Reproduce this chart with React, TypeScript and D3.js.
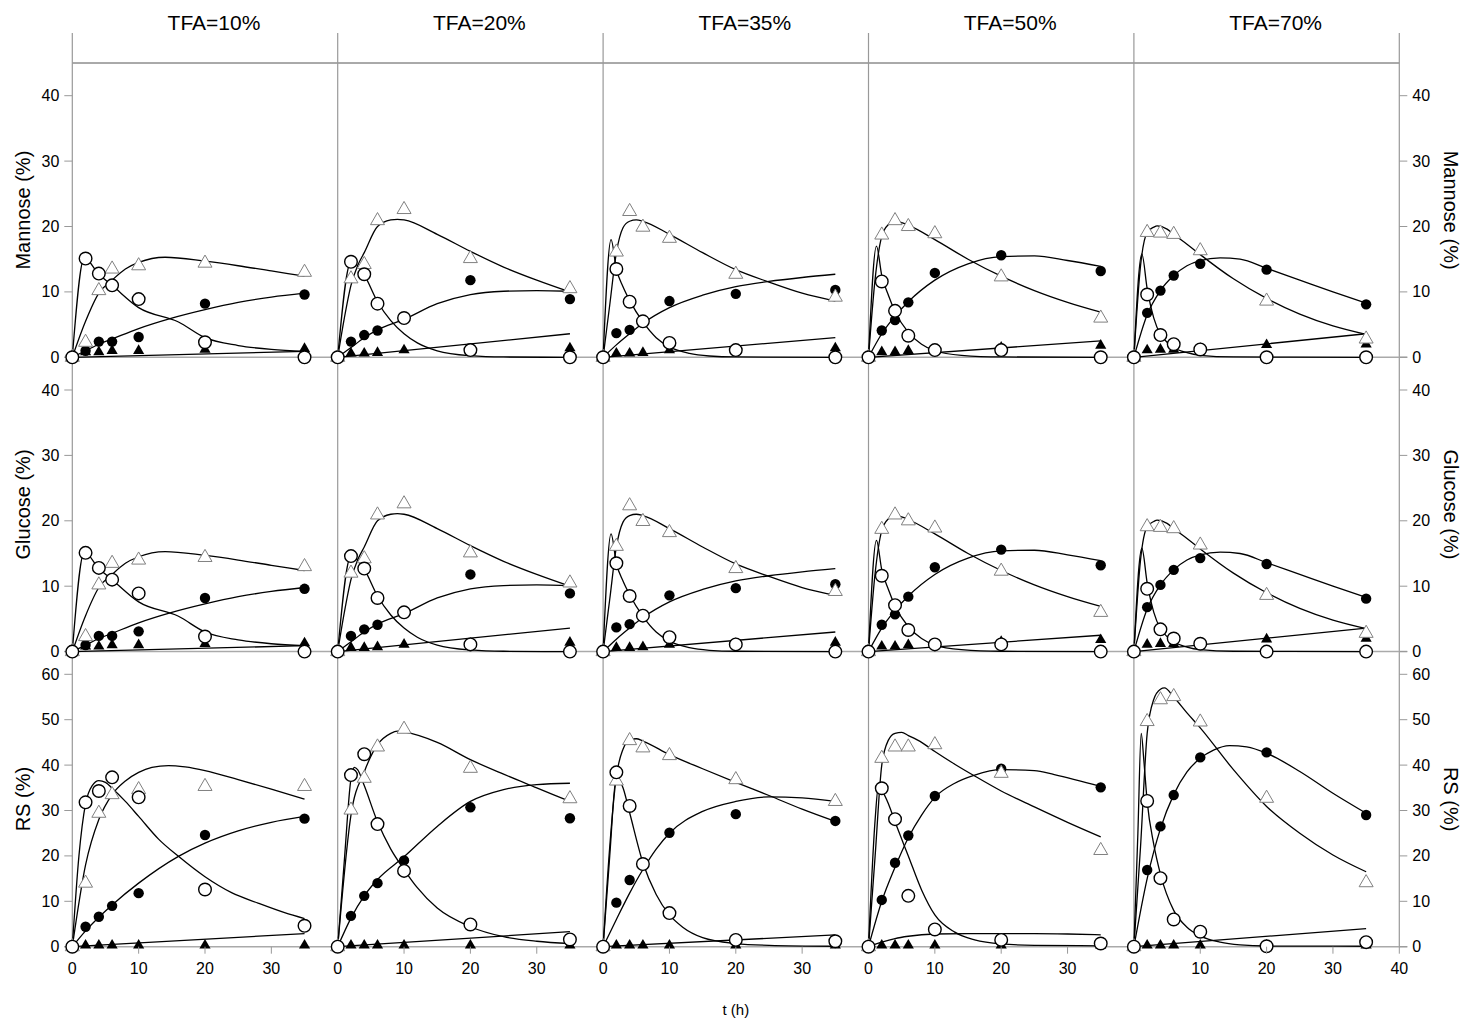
import * as d3 from "d3";

type Pt = [number, number];

const TFA = ["TFA=10%", "TFA=20%", "TFA=35%", "TFA=50%", "TFA=70%"];
const TIMES = [0, 2, 4, 6, 10, 20, 35];
const X_TICKS = [0, 10, 20, 30, 40];
const SUGAR_TICKS = [0, 10, 20, 30, 40];
const RS_TICKS = [0, 10, 20, 30, 40, 50, 60];

// Mannose (%) — one array per TFA level, values at TIMES
const manOpenCircle = [
  [0, 15.1, 12.8, 11.0, 8.9, 2.3, 0],
  [0, 14.6, 12.7, 8.2, 6.0, 1.1, 0],
  [0, 13.5, 8.5, 5.5, 2.2, 1.1, 0],
  [0, 11.6, 7.1, 3.3, 1.1, 1.1, 0],
  [0, 9.6, 3.4, 2.0, 1.2, 0, 0],
];
const manFilledCircle = [
  [0, 1.0, 2.4, 2.4, 3.1, 8.2, 9.6],
  [0, 2.4, 3.4, 4.1, 6.0, 11.8, 8.9],
  [0, 3.7, 4.2, 5.5, 8.6, 9.7, 10.3],
  [0, 4.1, 5.7, 8.4, 12.9, 15.6, 13.2],
  [0, 6.8, 10.2, 12.5, 14.3, 13.4, 8.1],
];
const manOpenTriangle = [
  [0, 2.3, 10.2, 13.5, 14.0, 14.4, 13.0],
  [0, 12.0, 14.2, 20.9, 22.6, 15.1, 10.5],
  [0, 16.1, 22.3, 19.9, 18.2, 12.7, 9.2],
  [0, 18.7, 20.9, 20.0, 18.9, 12.3, 6.0],
  [0, 19.1, 19.0, 18.8, 16.3, 8.6, 2.8],
];
const manFilledTriangle = [
  [0, 0.8, 0.8, 1.0, 1.0, 1.2, 1.3],
  [0, 0.6, 0.6, 0.7, 1.1, 1.2, 1.4],
  [0, 0.6, 0.6, 0.7, 1.1, 1.2, 1.4],
  [0, 0.8, 0.8, 1.0, 1.1, 1.5, 1.8],
  [0, 1.1, 1.2, 1.2, 1.3, 1.9, 2.0],
];

// model curves, [t, value]
const manOpenCircleFit: Pt[][] = [
  [[0, 0], [1.8, 15.2], [4, 12.7], [6, 11.0], [10, 7.6], [16, 5.4], [20, 3.0], [25, 1.8], [30, 1.2], [35, 0.9]],
  [[0, 0], [2, 14.6], [3, 14], [4, 12.6], [6, 8.5], [8, 5.6], [10, 3.6], [12, 2.2], [15, 1.0], [20, 0.25], [25, 0.05], [35, 0]],
  [[0, 0], [1.2, 18], [2, 13.5], [3, 10.8], [4, 8.7], [6, 5.4], [8, 3.0], [10, 1.6], [13, 0.6], [16, 0.2], [20, 0.05], [35, 0]],
  [[0, 0], [1.2, 17], [2, 12.5], [3, 9.5], [4, 7.0], [6, 3.8], [8, 2.0], [10, 1.0], [14, 0.3], [20, 0.05], [35, 0]],
  [[0, 0], [1.2, 15.8], [2, 10.5], [3, 6.0], [4, 3.5], [5, 2.3], [6, 1.5], [8, 0.7], [10, 0.3], [15, 0.05], [35, 0]],
];
const manOpenTriangleFit: Pt[][] = [
  [[0, 0], [2, 5.5], [4, 9.8], [6, 11.8], [8, 13.5], [10, 14.5], [14, 15.3], [20, 14.7], [25, 14.0], [30, 13.2], [35, 12.4]],
  [[0, 0], [1, 6], [2, 11], [3, 14], [4, 16], [6, 20], [8, 21], [9, 21.1], [10, 21], [15, 18.8], [20, 16.2], [25, 13.8], [30, 11.8], [35, 10.0]],
  [[0, 0], [1, 8], [2, 16], [3, 19.8], [4, 20.8], [5, 21.0], [6, 20.8], [10, 18.8], [15, 16.0], [20, 13.4], [25, 11.5], [30, 9.8], [35, 8.6]],
  [[0, 0], [1, 12], [2, 18.5], [3, 20.3], [4, 20.8], [5, 20.6], [6, 20.2], [10, 18.0], [15, 15.0], [20, 12.4], [25, 10.2], [30, 8.4], [35, 6.9]],
  [[0, 0], [1, 14], [2, 19.1], [3, 19.9], [3.5, 20.1], [5, 19.6], [6, 18.8], [8, 17.3], [10, 15.7], [15, 12.0], [20, 9.0], [25, 6.6], [30, 4.8], [35, 3.5]],
];
const manFilledCircleFit: Pt[][] = [
  [[0, 0], [2, 1.0], [4, 2.0], [6, 2.8], [10, 4.4], [15, 6.0], [20, 7.3], [25, 8.4], [30, 9.2], [35, 9.8]],
  [[0, 0], [2, 1.5], [4, 3.0], [6, 4.2], [10, 5.8], [15, 8.2], [20, 9.6], [25, 10.1], [30, 10.2], [35, 10.1]],
  [[0, 0], [2, 1.9], [4, 3.6], [6, 5.2], [10, 7.6], [15, 9.5], [20, 10.8], [25, 11.6], [30, 12.2], [35, 12.7]],
  [[0, 0], [2, 3.6], [4, 6.3], [6, 8.5], [10, 11.8], [15, 14.3], [20, 15.4], [25, 15.5], [30, 14.8], [35, 13.9]],
  [[0, 0], [2, 6.5], [4, 10.2], [6, 12.5], [8, 14.0], [10, 14.8], [13, 15.2], [16, 15.0], [20, 13.6], [25, 11.8], [30, 10.0], [35, 8.3]],
];
const manFilledTriangleFit: Pt[][] = [
  [[0, 0], [35, 0.9]],
  [[0, 0], [35, 3.6]],
  [[0, 0], [35, 3.0]],
  [[0, 0], [35, 2.5]],
  [[0, 0], [35, 3.6]],
];

// Glucose (%) panels show the same values as mannose in the figure
const gluOpenCircle = manOpenCircle;
const gluFilledCircle = manFilledCircle;
const gluOpenTriangle = manOpenTriangle;
const gluFilledTriangle = manFilledTriangle;
const gluOpenCircleFit = manOpenCircleFit;
const gluOpenTriangleFit = manOpenTriangleFit;
const gluFilledCircleFit = manFilledCircleFit;
const gluFilledTriangleFit = manFilledTriangleFit;

// RS (%)
const rsOpenCircle = [
  [0, 31.8, 34.3, 37.3, 32.9, 12.6, 4.6],
  [0, 37.8, 42.4, 27.0, 16.7, 4.9, 1.6],
  [0, 38.4, 31.0, 18.2, 7.4, 1.5, 1.2],
  [0, 34.9, 28.1, 11.2, 3.8, 1.5, 0.7],
  [0, 32.1, 15.1, 6.0, 3.3, 0.1, 1.0],
];
const rsFilledCircle = [
  [0, 4.4, 6.6, 9.0, 11.8, 24.6, 28.2],
  [0, 6.8, 11.2, 14.0, 19.0, 30.7, 28.3],
  [0, 9.7, 14.7, 18.2, 25.1, 29.2, 27.7],
  [0, 10.3, 18.5, 24.5, 33.2, 39.2, 35.1],
  [0, 16.9, 26.5, 33.4, 41.7, 42.8, 29.0],
];
const rsOpenTriangle = [
  [0, 14.0, 29.4, 33.5, 34.6, 35.3, 35.3],
  [0, 30.1, 37.1, 44.0, 47.9, 39.3, 32.6],
  [0, 36.5, 45.4, 43.8, 42.1, 36.8, 32.0],
  [0, 41.5, 44.0, 44.0, 44.5, 38.2, 21.2],
  [0, 49.6, 54.4, 55.1, 49.5, 32.7, 14.1],
];
const rsFilledTriangle = [
  [0, 0.3, 0.3, 0.3, 0.3, 0.3, 0.3],
  [0, 0.3, 0.3, 0.3, 0.3, 0.3, 0.3],
  [0, 0.3, 0.3, 0.3, 0.3, 0.3, 0.3],
  [0, 0.3, 0.3, 0.3, 0.3, 0.3, 0.3],
  [0, 0.3, 0.3, 0.3, 0.3, 0.3, 0.3],
];
const rsOpenCircleFit: Pt[][] = [
  [[0, 0], [1, 20], [2, 31.5], [3, 35.5], [4, 36.6], [5, 36.2], [6, 34.9], [8, 32], [10, 28.7], [13, 23.7], [16, 19.9], [20, 15.4], [24, 11.9], [28, 9.6], [32, 7.5], [35, 6.2]],
  [[0, 0], [1, 19], [2, 37], [2.5, 39.5], [3, 39], [4, 35.5], [6, 27.5], [8, 21.5], [10, 17], [12, 13], [15, 8.5], [20, 4.4], [25, 2.2], [30, 1.2], [35, 0.7]],
  [[0, 0], [1, 20], [2, 37.5], [3, 35], [4, 29.5], [6, 18.5], [8, 11.5], [10, 7], [12, 4.3], [15, 2], [20, 0.7], [25, 0.3], [35, 0.1]],
  [[0, 0], [1, 28], [1.5, 35.5], [2, 34.5], [3, 31.5], [4, 27.5], [6, 20], [8, 12.5], [10, 7], [13, 3.2], [16, 1.5], [20, 0.6], [25, 0.3], [35, 0.2]],
  [[0, 0], [0.6, 25], [1.1, 47], [1.5, 41], [2, 32], [3, 22.5], [4, 16], [6, 8], [8, 4.3], [10, 2.4], [13, 1], [16, 0.4], [20, 0.15], [35, 0.1]],
];
const rsOpenTriangleFit: Pt[][] = [
  [[0, 0], [2, 18], [4, 28], [6, 33.5], [8, 36.5], [10, 38.4], [12, 39.5], [14.5, 39.9], [17, 39.6], [20, 38.8], [25, 36.8], [30, 34.7], [35, 32.5]],
  [[0, 0], [2, 29], [4, 38.5], [6, 44.5], [8, 47], [9, 47.5], [10, 47.3], [15, 45], [20, 41.2], [25, 38], [30, 35], [35, 32]],
  [[0, 0], [1, 22], [2, 37.5], [3, 43.5], [4, 45.5], [5, 45.8], [6, 45.3], [10, 42.3], [15, 39.2], [20, 36.2], [25, 33.3], [30, 30.3], [35, 27.6]],
  [[0, 0], [1, 20], [2, 40], [3, 45.5], [4, 47], [5, 47.2], [6, 46.5], [8, 45], [10, 43], [13, 40.2], [16, 37.6], [20, 34.3], [25, 30.8], [30, 27.4], [35, 24.2]],
  [[0, 0], [1, 22], [2, 47], [3, 54.5], [4, 56.7], [4.6, 57], [6, 55], [8, 51.5], [10, 48.2], [15, 39], [20, 30.9], [25, 25], [30, 20.2], [35, 16.5]],
];
const rsFilledCircleFit: Pt[][] = [
  [[0, 0], [2, 3.5], [4, 6.5], [6, 9.2], [10, 14.0], [16, 19.9], [20, 22.8], [25, 25.5], [30, 27.4], [35, 28.7]],
  [[0, 0], [2, 6.3], [4, 11.2], [6, 14.8], [10, 19.8], [15, 26.5], [20, 32], [25, 34.6], [30, 35.7], [35, 36]],
  [[0, 0], [2, 6], [4, 11.8], [6, 17], [8, 21.5], [10, 25], [15, 29.8], [20, 32], [25, 33], [30, 32.8], [35, 32.0]],
  [[0, 0], [2, 10], [4, 17.5], [6, 24], [8, 29], [10, 32.9], [13, 36], [16, 37.8], [20, 39], [25, 38.8], [28, 37.9], [35, 35.3]],
  [[0, 0], [2, 15], [4, 26], [6, 33.5], [8, 38.5], [10, 41.5], [12, 43.3], [14.4, 44.3], [17, 44], [20, 42.6], [25, 38.6], [30, 33.8], [35, 29.4]],
];
const rsFilledTriangleFit: Pt[][] = [
  [[0, 0], [35, 2.9]],
  [[0, 0], [35, 3.3]],
  [[0, 0], [35, 2.6]],
  [[0, 0], [2, 1.0], [4, 1.8], [6, 2.3], [10, 2.8], [15, 2.9], [20, 2.9], [25, 2.9], [30, 2.8], [35, 2.6]],
  [[0, 0], [35, 4.0]],
];

const W = 1464;
const H = 1023;
const LEFT = 72.3;
const PW = 265.4;
const RIGHT = LEFT + PW * 5;
const FONT = "'Liberation Sans', Arial, sans-serif";

const rows = [
  {
    label: "Mannose (%)", top: 63, base: 357.3, max: 45, ticks: SUGAR_TICKS,
    oc: manOpenCircle, fc: manFilledCircle, ot: manOpenTriangle, ft: manFilledTriangle,
    ocFit: manOpenCircleFit, fcFit: manFilledCircleFit, otFit: manOpenTriangleFit, ftFit: manFilledTriangleFit,
  },
  {
    label: "Glucose (%)", top: 357.3, base: 651.6, max: 45, ticks: SUGAR_TICKS,
    oc: gluOpenCircle, fc: gluFilledCircle, ot: gluOpenTriangle, ft: gluFilledTriangle,
    ocFit: gluOpenCircleFit, fcFit: gluFilledCircleFit, otFit: gluOpenTriangleFit, ftFit: gluFilledTriangleFit,
  },
  {
    label: "RS (%)", top: 651.6, base: 946.7, max: 65, ticks: RS_TICKS,
    oc: rsOpenCircle, fc: rsFilledCircle, ot: rsOpenTriangle, ft: rsFilledTriangle,
    ocFit: rsOpenCircleFit, fcFit: rsFilledCircleFit, otFit: rsOpenTriangleFit, ftFit: rsFilledTriangleFit,
  },
];

const bigTri = d3.symbol().type(d3.symbolTriangle).size(85)() as string;
const smallTri = d3.symbol().type(d3.symbolTriangle).size(54)() as string;

const App = () => {
  const bottom = rows[2].base;
  return (
    <svg width={W} height={H} style={{ position: "absolute", left: 0, top: 0, background: "#fff" }} fontFamily={FONT}>
      {/* frame */}
      <line x1={LEFT} x2={RIGHT} y1={63} y2={63} stroke="#555" strokeWidth={1} />
      {d3.range(6).map((i) => (
        <line key={"v" + i} x1={LEFT + i * PW} x2={LEFT + i * PW} y1={33} y2={bottom} stroke="#999" strokeWidth={1.2} />
      ))}
      {TFA.map((t, c) => (
        <text key={t} x={LEFT + c * PW + PW / 2 + 9} y={30} fontSize={21} textAnchor="middle">{t}</text>
      ))}

      {rows.map((row, r) => {
        const y = d3.scaleLinear().domain([0, row.max]).range([row.base, row.top]);
        const cy = (row.top + row.base) / 2;
        return (
          <g key={row.label}>
            <line x1={LEFT - 8} x2={RIGHT + 8} y1={y(0)} y2={y(0)} stroke="#aaa" strokeWidth={1.5} />
            {row.ticks.map((v) => (
              <g key={v}>
                <line x1={LEFT - 8} x2={LEFT} y1={y(v)} y2={y(v)} stroke="#999" />
                <line x1={RIGHT} x2={RIGHT + 8} y1={y(v)} y2={y(v)} stroke="#999" />
                <text x={LEFT - 13} y={y(v)} fontSize={16} textAnchor="end" dominantBaseline="central">{v}</text>
                <text x={RIGHT + 13} y={y(v)} fontSize={16} textAnchor="start" dominantBaseline="central">{v}</text>
              </g>
            ))}
            <text transform={`translate(23,${cy}) rotate(-90)`} fontSize={20} textAnchor="middle" dominantBaseline="central">{row.label}</text>
            <text transform={`translate(1451,${cy}) rotate(90)`} fontSize={20} textAnchor="middle" dominantBaseline="central">{row.label}</text>

            {TFA.map((_, c) => {
              const x = d3.scaleLinear().domain([0, 40]).range([LEFT + c * PW, LEFT + (c + 1) * PW]);
              const line = d3.line<Pt>().x((d) => x(d[0])).y((d) => y(d[1])).curve(d3.curveMonotoneX);
              const fits = [row.ftFit[c], row.fcFit[c], row.otFit[c], row.ocFit[c]];
              return (
                <g key={c}>
                  {fits.map((f, i) => (
                    <path key={i} d={line(f) as string} fill="none" stroke="#000" strokeWidth={1.3} />
                  ))}
                  {TIMES.map((t, i) => (
                    <path key={"ft" + i} d={smallTri} transform={`translate(${x(t)},${y(row.ft[c][i])})`} fill="#000" />
                  ))}
                  {TIMES.map((t, i) => (
                    <circle key={"fc" + i} cx={x(t)} cy={y(row.fc[c][i])} r={5.2} fill="#000" />
                  ))}
                  {TIMES.map((t, i) => (
                    <path key={"ot" + i} d={bigTri} transform={`translate(${x(t)},${y(row.ot[c][i])})`} fill="#fff" stroke="#808080" strokeWidth={1} />
                  ))}
                  {TIMES.map((t, i) => (
                    <circle key={"oc" + i} cx={x(t)} cy={y(row.oc[c][i])} r={6.3} fill="#fff" stroke="#000" strokeWidth={1.4} />
                  ))}
                  {r === 2 && (
                    <g>
                      {X_TICKS.filter((v) => v > 0 && (v < 40 || c === 4)).map((v) => (
                        <line key={v} x1={x(v)} x2={x(v)} y1={y(0)} y2={y(0) + 7} stroke="#999" />
                      ))}
                      {X_TICKS.filter((v) => v < 40 || c === 4).map((v) => (
                        <text key={"l" + v} x={x(v)} y={974} fontSize={16} textAnchor="middle">{v}</text>
                      ))}
                    </g>
                  )}
                </g>
              );
            })}
          </g>
        );
      })}
      <text x={(LEFT + RIGHT) / 2} y={1015} fontSize={15} textAnchor="middle">t (h)</text>
    </svg>
  );
};

export default App;
